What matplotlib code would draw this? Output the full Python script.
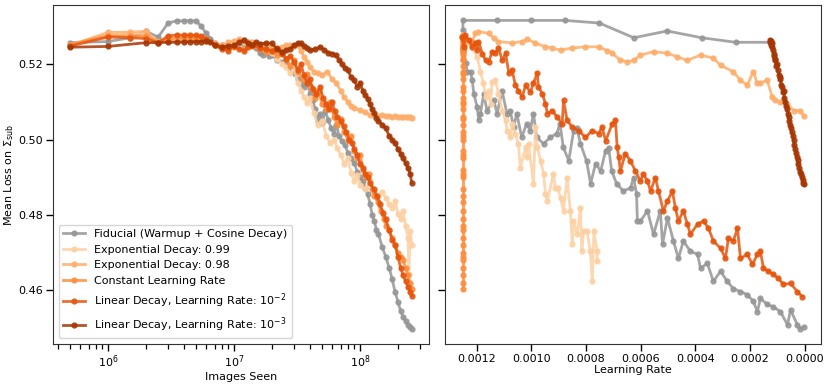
import matplotlib
matplotlib.use("Agg")
import matplotlib.pyplot as plt

plt.rcParams["font.size"] = 8

# ---------------------------------------------------------------------------
# Series labels and colours (legend order)
labels = [
    "Fiducial (Warmup + Cosine Decay)",
    "Exponential Decay: 0.99",
    "Exponential Decay: 0.98",
    "Constant Learning Rate",
    r"Linear Decay, Learning Rate: $10^{-2}$",
    r"Linear Decay, Learning Rate: $10^{-3}$",
]
colors = ["#969696", "#fdd0a2", "#fdae6b", "#fd8d3c", "#e6550d", "#a63603"]

# ---------------------------------------------------------------------------
# Left panel: (images seen [millions], mean loss)
fid_left = [(0.5, 0.5257), (1, 0.5260), (1.5, 0.5270), (2, 0.5287), (2.5, 0.5272), (3, 0.5309),
            (3.5, 0.5315), (4, 0.5315), (4.5, 0.5315), (5, 0.5315), (5.5, 0.5300), (6, 0.5282),
            (6.5, 0.5268), (7, 0.5256), (8, 0.5250), (9, 0.5253), (10, 0.5248), (11, 0.5256),
            (12, 0.5254), (13, 0.5258), (14, 0.5250), (15, 0.5242), (16, 0.5230), (17, 0.5224),
            (18, 0.5232), (19, 0.5222), (20, 0.5225), (22, 0.5212), (24, 0.5205), (26, 0.5202),
            (28, 0.5190), (30, 0.5176), (32, 0.5160), (34, 0.5150), (36, 0.5140), (38, 0.5156),
            (40, 0.5120), (42, 0.5104), (44, 0.5082), (46, 0.5050), (48, 0.5068), (50, 0.5045),
            (53, 0.5075), (56, 0.5052), (59, 0.5030), (62, 0.5016), (65, 0.5040), (68, 0.5010),
            (72, 0.4995), (76, 0.4985), (80, 0.4965), (85, 0.4950), (90, 0.4938), (95, 0.4915),
            (100, 0.4900), (105, 0.4890), (110, 0.4872), (115, 0.4855), (120, 0.4830),
            (125, 0.4800), (130, 0.4784), (135, 0.4760), (140, 0.4750), (150, 0.4715),
            (160, 0.4690), (170, 0.4660), (180, 0.4630), (190, 0.4595), (200, 0.4570),
            (210, 0.4545), (220, 0.4530), (230, 0.4520), (240, 0.4508), (250, 0.4502), (258, 0.4499)]

exp99_left = [(0.5, 0.5252), (1, 0.5278), (1.5, 0.5280), (2, 0.5282), (2.5, 0.5260), (3, 0.5262),
              (4, 0.5263), (5, 0.5264), (6, 0.5262), (7, 0.5250), (8, 0.5242), (9, 0.5246),
              (10, 0.5252), (12, 0.5260), (14, 0.5258), (16, 0.5250), (18, 0.5242), (20, 0.5230),
              (22, 0.5215), (24, 0.5200), (26, 0.5192), (28, 0.5176), (30, 0.5190), (32, 0.5150),
              (34, 0.5130), (36, 0.5112), (38, 0.5096), (40, 0.5110), (43, 0.5070), (46, 0.5040),
              (50, 0.5050), (54, 0.5010), (58, 0.4990), (62, 0.5000), (66, 0.4979), (70, 0.4960),
              (75, 0.4936), (80, 0.4950), (85, 0.4912), (90, 0.4890), (95, 0.4905), (100, 0.4880),
              (110, 0.4870), (120, 0.4890), (130, 0.4865), (140, 0.4850), (150, 0.4862),
              (160, 0.4845), (170, 0.4830), (180, 0.4820), (190, 0.4837), (200, 0.4803),
              (210, 0.4790), (220, 0.4810), (230, 0.4770), (240, 0.4740), (244, 0.4645),
              (250, 0.4757), (258, 0.4720)]

exp98_left = [(0.5, 0.5250), (1, 0.5284), (1.5, 0.5285), (2, 0.5287), (2.5, 0.5258), (3, 0.5262),
              (4, 0.5265), (5, 0.5266), (6, 0.5266), (7, 0.5255), (8, 0.5250), (9, 0.5258),
              (10, 0.5262), (11, 0.5266), (12, 0.5264), (14, 0.5258), (16, 0.5250), (18, 0.5248),
              (20, 0.5244), (22, 0.5238), (24, 0.5246), (26, 0.5250), (28, 0.5250), (30, 0.5248),
              (32, 0.5250), (34, 0.5235), (36, 0.5220), (38, 0.5205), (40, 0.5192), (43, 0.5180),
              (46, 0.5176), (50, 0.5172), (55, 0.5180), (60, 0.5160), (65, 0.5150), (70, 0.5130),
              (75, 0.5112), (80, 0.5100), (85, 0.5090), (90, 0.5085), (100, 0.5078), (110, 0.5072),
              (120, 0.5066), (130, 0.5064), (140, 0.5062), (150, 0.5064), (160, 0.5063),
              (170, 0.5062), (180, 0.5060), (190, 0.5062), (200, 0.5061), (210, 0.5060),
              (220, 0.5060), (230, 0.5061), (240, 0.5060), (250, 0.5059), (258, 0.5058)]

const_left = [(0.5, 0.5252), (1, 0.5275), (1.5, 0.5275), (2, 0.5275), (2.5, 0.5258), (3, 0.5268),
              (4, 0.5270), (5, 0.5268), (6, 0.5262), (7, 0.5252), (8, 0.5245), (9, 0.5240),
              (10, 0.5245), (12, 0.5240), (14, 0.5248), (16, 0.5240), (18, 0.5232), (20, 0.5236),
              (22, 0.5225), (24, 0.5230), (26, 0.5215), (28, 0.5195), (30, 0.5210), (32, 0.5180),
              (35, 0.5160), (38, 0.5175), (41, 0.5140), (44, 0.5110), (47, 0.5130), (50, 0.5095),
              (54, 0.5080), (58, 0.5100), (62, 0.5060), (66, 0.5040), (70, 0.5055), (75, 0.5020),
              (80, 0.5000), (85, 0.5010), (90, 0.4970), (95, 0.4950), (100, 0.4960), (106, 0.4920),
              (112, 0.4900), (118, 0.4910), (124, 0.4870), (130, 0.4850), (138, 0.4835),
              (146, 0.4810), (154, 0.4790), (162, 0.4770), (170, 0.4760), (180, 0.4740),
              (190, 0.4720), (200, 0.4700), (210, 0.4690), (220, 0.4680), (230, 0.4660),
              (240, 0.4640), (250, 0.4620), (258, 0.4605)]

lin2_left = [(0.5, 0.5248), (1, 0.5272), (1.5, 0.5270), (2, 0.5268), (2.5, 0.5257), (3, 0.5275),
             (3.5, 0.5277), (4, 0.5277), (4.5, 0.5277), (5, 0.5276), (5.5, 0.5274), (6, 0.5268),
             (7, 0.5250), (8, 0.5240), (9, 0.5236), (10, 0.5248), (11, 0.5240), (12, 0.5236),
             (13, 0.5246), (14, 0.5250), (16, 0.5244), (18, 0.5240), (20, 0.5236), (22, 0.5242),
             (24, 0.5228), (26, 0.5215), (28, 0.5222), (30, 0.5205), (32, 0.5185), (34, 0.5200),
             (36, 0.5170), (38, 0.5150), (40, 0.5160), (42, 0.5135), (45, 0.5120), (48, 0.5140),
             (51, 0.5110), (54, 0.5095), (57, 0.5080), (60, 0.5100), (63, 0.5075), (66, 0.5060),
             (70, 0.5050), (74, 0.5035), (78, 0.5020), (82, 0.5000), (86, 0.4990), (90, 0.4975),
             (95, 0.4960), (100, 0.4935), (105, 0.4925), (110, 0.4910), (115, 0.4900),
             (120, 0.4885), (128, 0.4870), (136, 0.4850), (144, 0.4830), (152, 0.4805),
             (160, 0.4790), (170, 0.4760), (180, 0.4735), (190, 0.4720), (200, 0.4690),
             (210, 0.4660), (220, 0.4640), (230, 0.4625), (240, 0.4610), (250, 0.4595), (258, 0.4585)]

lin3_left = [(0.5, 0.5245), (1, 0.5247), (2, 0.5257), (2.5, 0.5257), (3, 0.5258), (3.5, 0.5258),
             (4, 0.5259), (4.5, 0.5259), (5, 0.5260), (5.5, 0.5260), (6, 0.5262), (6.5, 0.5258),
             (7, 0.5252), (8, 0.5245), (9, 0.5248), (10, 0.5250), (11, 0.5258), (12, 0.5264),
             (13, 0.5255), (14, 0.5252), (15, 0.5258), (16, 0.5254), (18, 0.5256), (20, 0.5255),
             (22, 0.5240), (24, 0.5232), (26, 0.5237), (28, 0.5240), (30, 0.5250), (32, 0.5255),
             (34, 0.5256), (36, 0.5248), (38, 0.5242), (40, 0.5237), (44, 0.5240), (48, 0.5245),
             (52, 0.5238), (56, 0.5230), (60, 0.5228), (64, 0.5224), (68, 0.5212), (72, 0.5200),
             (76, 0.5190), (80, 0.5184), (85, 0.5165), (90, 0.5157), (95, 0.5140), (100, 0.5150),
             (105, 0.5130), (110, 0.5118), (115, 0.5108), (120, 0.5095), (125, 0.5080),
             (130, 0.5070), (135, 0.5058), (140, 0.5050), (150, 0.5040), (160, 0.5030),
             (170, 0.5010), (180, 0.5000), (190, 0.4990), (200, 0.4975), (210, 0.4963),
             (220, 0.4950), (230, 0.4938), (240, 0.4925), (250, 0.4910), (257, 0.4885)]

# ---------------------------------------------------------------------------
# Right panel: (learning rate [1e-4], mean loss)
fid_right = [(1.28, 0.5258), (2.53, 0.5258), (3.76, 0.5270), (5.03, 0.5288), (6.25, 0.5270),
             (7.51, 0.5309), (8.76, 0.5316), (10.00, 0.5316), (11.25, 0.5316), (12.50, 0.5316),
             (12.50, 0.5290), (12.48, 0.5237), (12.40, 0.5202), (12.34, 0.5180), (12.22, 0.5180),
             (12.16, 0.5157), (12.10, 0.5122), (11.98, 0.5086), (11.92, 0.5051), (11.86, 0.5069),
             (11.74, 0.5122), (11.62, 0.5077), (11.37, 0.5104), (11.25, 0.5069), (11.07, 0.5130),
             (10.89, 0.5069), (10.77, 0.5077), (10.65, 0.5033), (10.53, 0.5069), (10.35, 0.5006),
             (10.17, 0.5042), (10.04, 0.5024), (9.92, 0.5069), (9.80, 0.5006), (9.55, 0.4989),
             (9.31, 0.5006), (9.07, 0.5016), (8.95, 0.5042), (8.83, 0.4980), (8.63, 0.4944),
             (8.45, 0.5024), (8.34, 0.5032), (8.20, 0.4989), (7.98, 0.4944), (7.83, 0.4883),
             (7.65, 0.4936), (7.46, 0.4917), (7.28, 0.4971), (7.17, 0.4979), (7.06, 0.4917),
             (6.88, 0.4883), (6.63, 0.4864), (6.37, 0.4872), (6.26, 0.4899), (6.15, 0.4856),
             (6.12, 0.4784), (6.01, 0.4784), (5.75, 0.4811), (5.53, 0.4749), (5.28, 0.4811),
             (5.20, 0.4723), (5.02, 0.4792), (4.80, 0.4731), (4.62, 0.4685), (4.44, 0.4731),
             (4.18, 0.4704), (3.92, 0.4696), (3.81, 0.4659), (3.56, 0.4672), (3.34, 0.4624),
             (3.08, 0.4651), (2.83, 0.4624), (2.61, 0.4605), (2.35, 0.4597), (2.10, 0.4589),
             (1.88, 0.4571), (1.73, 0.4544), (1.62, 0.4579), (1.37, 0.4563), (1.15, 0.4557),
             (0.89, 0.4544), (0.63, 0.4509), (0.52, 0.4549), (0.27, 0.4509), (0.16, 0.4499),
             (0.04, 0.4504)]

exp99_right = [(12.53, 0.5277), (12.30, 0.5256), (11.98, 0.5220), (11.86, 0.5180), (11.75, 0.5150),
               (11.67, 0.5113), (11.56, 0.5130), (11.49, 0.5095), (11.43, 0.5153), (11.31, 0.5157),
               (11.20, 0.5122), (11.06, 0.5077), (10.94, 0.5051), (10.88, 0.5024), (10.76, 0.5006),
               (10.70, 0.5042), (10.58, 0.5016), (10.47, 0.4989), (10.40, 0.4925), (10.21, 0.4980),
               (10.15, 0.4953), (10.10, 0.4989), (9.92, 0.4883), (9.85, 0.5033), (9.78, 0.4980),
               (9.66, 0.4944), (9.55, 0.4909), (9.48, 0.4856), (9.41, 0.4837), (9.19, 0.4909),
               (9.12, 0.4872), (9.04, 0.4872), (8.93, 0.4845), (8.82, 0.4811), (8.69, 0.4899),
               (8.57, 0.4811), (8.50, 0.4723), (8.46, 0.4784), (8.32, 0.4749), (8.20, 0.4820),
               (8.15, 0.4704), (8.09, 0.4757), (7.96, 0.4757), (7.84, 0.4704), (7.77, 0.4624),
               (7.71, 0.4757), (7.59, 0.4704), (7.59, 0.4677)]

exp98_right = [(12.53, 0.5273), (12.16, 0.5260), (12.04, 0.5282), (11.93, 0.5286), (11.56, 0.5282),
               (11.38, 0.5269), (11.20, 0.5260), (10.70, 0.5256), (10.33, 0.5260), (10.15, 0.5266),
               (9.85, 0.5256), (9.48, 0.5246), (9.24, 0.5243), (8.93, 0.5237), (8.50, 0.5243),
               (8.02, 0.5246), (7.54, 0.5246), (7.22, 0.5236), (7.04, 0.5229), (6.74, 0.5210),
               (6.49, 0.5206), (6.26, 0.5210), (6.01, 0.5224), (5.53, 0.5233), (5.03, 0.5229),
               (4.67, 0.5220), (4.30, 0.5210), (3.81, 0.5224), (3.34, 0.5216), (3.08, 0.5197),
               (2.61, 0.5180), (2.35, 0.5157), (2.10, 0.5145), (1.88, 0.5180), (1.74, 0.5150),
               (1.62, 0.5150), (1.37, 0.5157), (1.19, 0.5113), (1.07, 0.5104), (0.89, 0.5100),
               (0.64, 0.5095), (0.41, 0.5077), (0.16, 0.5077), (0.04, 0.5062)]

const_lr = 12.5  # constant schedule: every evaluation sits at the same learning rate

lin2_right = [(12.53, 0.5273), (12.47, 0.5246), (12.41, 0.5277), (12.29, 0.5264), (12.16, 0.5246),
              (12.04, 0.5256), (11.98, 0.5237), (11.93, 0.5260), (11.79, 0.5228), (11.67, 0.5210),
              (11.56, 0.5206), (11.43, 0.5233), (11.31, 0.5230), (11.20, 0.5243), (11.06, 0.5210),
              (10.94, 0.5229), (10.82, 0.5176), (10.70, 0.5184), (10.58, 0.5144), (10.47, 0.5130),
              (10.33, 0.5113), (10.21, 0.5144), (10.03, 0.5126), (9.92, 0.5150), (9.78, 0.5176),
              (9.74, 0.5140), (9.60, 0.5122), (9.48, 0.5095), (9.41, 0.5069), (9.24, 0.5077),
              (9.05, 0.5060), (8.87, 0.5042), (8.82, 0.5104), (8.69, 0.5051), (8.50, 0.5033),
              (8.27, 0.5024), (8.02, 0.5006), (7.77, 0.5024), (7.54, 0.5016), (7.41, 0.5033),
              (7.28, 0.4997), (7.04, 0.5042), (6.92, 0.5051), (6.86, 0.4980), (6.80, 0.4953),
              (6.74, 0.4917), (6.56, 0.4963), (6.38, 0.4944), (6.19, 0.4917), (6.01, 0.4890),
              (5.90, 0.4909), (5.75, 0.4890), (5.64, 0.4864), (5.46, 0.4899), (5.35, 0.4864),
              (5.17, 0.4811), (5.02, 0.4837), (4.84, 0.4864), (4.73, 0.4819), (4.62, 0.4784),
              (4.44, 0.4811), (4.29, 0.4776), (4.18, 0.4749), (3.92, 0.4776), (3.70, 0.4784),
              (3.52, 0.4765), (3.34, 0.4731), (3.08, 0.4712), (2.90, 0.4685), (2.79, 0.4739),
              (2.61, 0.4731), (2.46, 0.4765), (2.35, 0.4685), (2.10, 0.4696), (1.91, 0.4669),
              (1.73, 0.4696), (1.62, 0.4704), (1.51, 0.4659), (1.33, 0.4651), (1.15, 0.4643),
              (0.96, 0.4632), (0.78, 0.4616), (0.52, 0.4619), (0.27, 0.4597), (0.09, 0.4584)]

lin3_right = [(1.28, 0.5264), (1.26, 0.5258), (1.24, 0.5262), (1.22, 0.5250), (1.20, 0.5256),
              (1.18, 0.5245), (1.16, 0.5238), (1.14, 0.5222), (1.12, 0.5228), (1.10, 0.5215),
              (1.07, 0.5210), (1.04, 0.5196), (1.01, 0.5200), (0.98, 0.5185), (0.95, 0.5170),
              (0.92, 0.5160), (0.89, 0.5165), (0.86, 0.5145), (0.83, 0.5140), (0.80, 0.5125),
              (0.77, 0.5130), (0.74, 0.5110), (0.71, 0.5100), (0.68, 0.5090), (0.65, 0.5080),
              (0.62, 0.5068), (0.59, 0.5060), (0.56, 0.5050), (0.53, 0.5040), (0.50, 0.5030),
              (0.47, 0.5020), (0.44, 0.5010), (0.41, 0.4998), (0.38, 0.4985), (0.35, 0.4975),
              (0.32, 0.4965), (0.29, 0.4955), (0.26, 0.4945), (0.23, 0.4935), (0.20, 0.4925),
              (0.17, 0.4915), (0.14, 0.4910), (0.11, 0.4900), (0.08, 0.4892), (0.05, 0.4885),
              (0.03, 0.4883)]

# ---------------------------------------------------------------------------
fig = plt.figure(figsize=(8.3, 3.84), dpi=100)
W, H = 830, 384
ax_img = fig.add_axes([53 / W, 1 - 344 / H, (429 - 53) / W, (344 - 5) / H])
ax_lr = fig.add_axes([445 / W, 1 - 344 / H, (821 - 445) / W, (344 - 5) / H], sharey=ax_img)

style = dict(marker="o", lw=2.0, ms=3.5, alpha=0.85)

left_sets = [fid_left, exp99_left, exp98_left, const_left, lin2_left, lin3_left]
for data, c, lab in zip(left_sets, colors, labels):
    x, y = zip(*data)
    ax_img.plot([v * 1e6 for v in x], y, color=c, label=lab, **style)

const_loss = [v[1] for v in const_left]
right_sets = [fid_right, exp99_right, exp98_right,
              [(const_lr, v) for v in const_loss], lin2_right, lin3_right]
for data, c in zip(right_sets, colors):
    x, y = zip(*data)
    ax_lr.plot([v * 1e-4 for v in x], y, color=c, **style)

ax_img.set_xscale("log")
ax_img.set_xlabel("Images Seen", labelpad=1)
ax_img.set_ylabel(r"Mean Loss on $\Sigma_{\rm sub}$", labelpad=2)
ax_img.set_yticks([0.46, 0.48, 0.50, 0.52])

ax_lr.invert_xaxis()
ax_lr.set_xlabel("Learning Rate", labelpad=1)
ax_lr.set_xticks([0.0012, 0.0010, 0.0008, 0.0006, 0.0004, 0.0002, 0.0])
ax_lr.set_xticklabels(["0.0012", "0.0010", "0.0008", "0.0006", "0.0004", "0.0002", "0.0000"])
ax_lr.tick_params(labelleft=False)

for ax in (ax_img, ax_lr):
    ax.tick_params(which="major", length=5, width=1, pad=2)
    ax.tick_params(which="minor", length=3.5, width=0.9, pad=2)
    for sp in ax.spines.values():
        sp.set_color("0.2")

ax_img.legend(loc="lower left", fontsize=8, edgecolor="0.8")

fig.savefig("out.png", dpi=100)
